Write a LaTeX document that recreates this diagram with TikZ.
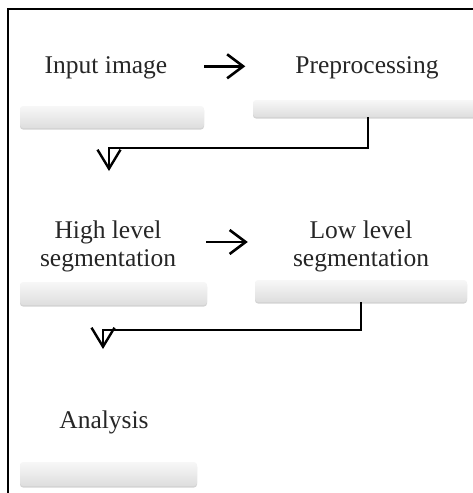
\documentclass[tikz,border=0pt]{standalone}
\usepackage{fontspec}
\setmainfont{Liberation Serif}
\usetikzlibrary{arrows.meta,shadows}

\tikzset{
  label/.style={inner sep=0pt, text=black!85, align=center,
    font=\fontsize{25.5}{28}\selectfont},
  bar/.style={draw=none, rounded corners=3pt,
    top color=black!3, bottom color=black!13,
    drop shadow={shadow xshift=0pt, shadow yshift=-1.5pt, opacity=0.35}},
  tarrow/.style={line width=2.6pt, -{Straight Barb[length=16pt,width=24pt]}},
  conn/.style={line width=2.4pt, -{Straight Barb[length=19pt,width=23pt]}},
  frame/.style={line width=2pt}
}

\begin{document}
\begin{tikzpicture}[x=1pt, y=-1pt]
  \clip (0,0) rectangle (473,493);
  \draw[frame] (8,9) rectangle (490,510);

  % step labels
  \node[label, anchor=base] (in)  at (106,73)  {Input image};
  \node[label, anchor=base] (pre) at (367,73)  {Preprocessing};
  \node[label] (hi) at (108,246) {High level\\segmentation};
  \node[label] (lo) at (361,246) {Low level\\segmentation};
  \node[label, anchor=base] (an)  at (104,428) {Analysis};

  % shaded bars under the labels
  \node[bar, minimum width=184pt, minimum height=22pt] (b1) at (112,117) {};
  \node[bar, minimum width=237pt, minimum height=17pt] (b2) at (371.5,108.5) {};
  \node[bar, minimum width=187pt, minimum height=23pt] (b3) at (113.5,293.5) {};
  \node[bar, minimum width=212pt, minimum height=22pt] (b4) at (361,291) {};
  \node[bar, minimum width=177pt, minimum height=24pt] (b5) at (108.5,474) {};

  % arrows between labels on the same row
  \draw[tarrow, shorten <=37pt, shorten >=50pt] ([yshift=1pt]in.east) -- ([yshift=1pt]pre.west);
  \draw[tarrow, shorten <=30pt, shorten >=45pt] ([yshift=4pt]hi.east) -- ([yshift=4pt]lo.west);

  % elbow connectors down to the next row
  \coordinate (k1) at (109,148);
  \coordinate (t1) at (109,171);
  \draw[conn] (b2.south -| 368,0) |- (k1) -- (t1);

  \coordinate (k2) at (103,330);
  \coordinate (t2) at (103,349);
  \draw[conn] (b4.south) |- (k2) -- (t2);
\end{tikzpicture}
\end{document}
